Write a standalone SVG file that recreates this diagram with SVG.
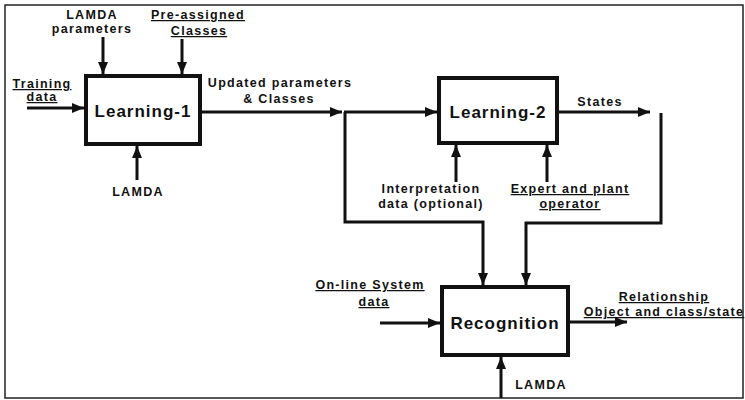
<svg xmlns="http://www.w3.org/2000/svg" width="745" height="400" viewBox="0 0 745 400">
<style>
text{font-family:"Liberation Sans",Arial,sans-serif;font-weight:bold;fill:#111;}
.lbl{font-size:12.5px;letter-spacing:1.3px;text-anchor:middle;}
.u{text-decoration:underline;}
.box{fill:#fff;stroke:#111;stroke-width:4;}
.bt{font-size:17px;letter-spacing:1px;text-anchor:middle;}
.c{fill:none;stroke:#111;stroke-width:3;}
</style>
<defs>
<marker id="ah" viewBox="0 0 12 10" refX="12" refY="5" markerWidth="12" markerHeight="10" orient="auto" markerUnits="userSpaceOnUse">
<path d="M0,0 L12,5 L0,10 Z" fill="#111"/>
</marker>
</defs>
<rect x="5" y="5" width="738" height="393" fill="#fff" stroke="#222" stroke-width="1.5"/>
<g id="connectors">
<path class="c" d="M103,37 V74" marker-end="url(#ah)"/>
<path class="c" d="M182,39 V74" marker-end="url(#ah)"/>
<path class="c" d="M27,108 H84" marker-end="url(#ah)"/>
<path class="c" d="M137,180 V146" marker-end="url(#ah)"/>
<path class="c" d="M202,112 H342" marker-end="url(#ah)"/>
<path class="c" d="M344,112 H437" marker-end="url(#ah)"/>
<path class="c" d="M345,112 V222 H483 V285" marker-end="url(#ah)"/>
<path class="c" d="M559,112 H650" marker-end="url(#ah)"/>
<path class="c" d="M661,113 V223 H526 V285" marker-end="url(#ah)"/>
<path class="c" d="M456,182 V145" marker-end="url(#ah)"/>
<path class="c" d="M547,182 V145" marker-end="url(#ah)"/>
<path class="c" d="M380,323 H440" marker-end="url(#ah)"/>
<path class="c" d="M570,322 H627" marker-end="url(#ah)"/>
<path class="c" d="M501,398 V357" marker-end="url(#ah)"/>
</g>
<g id="learning1">
<rect class="box" x="86" y="76" width="114" height="68"/>
<text class="bt" x="143" y="117">Learning-1</text>
</g>
<g id="learning2">
<rect class="box" x="439" y="78" width="118" height="65"/>
<text class="bt" x="498" y="118">Learning-2</text>
</g>
<g id="recognition">
<rect class="box" x="442" y="287" width="126" height="68"/>
<text class="bt" x="505" y="329">Recognition</text>
</g>
<g id="labels">
<text class="lbl" x="92" y="19">LAMDA</text>
<text class="lbl" x="92" y="33">parameters</text>
<text class="lbl u" x="198" y="19">Pre-assigned</text>
<text class="lbl u" x="199" y="35">Classes</text>
<text class="lbl u" x="42" y="88">Training</text>
<text class="lbl u" x="42" y="101">data</text>
<text class="lbl" x="138" y="196">LAMDA</text>
<text class="lbl" x="280" y="87">Updated parameters</text>
<text class="lbl" x="279" y="103">&amp; Classes</text>
<text class="lbl" x="600" y="106">States</text>
<text class="lbl" x="431" y="193">Interpretation</text>
<text class="lbl" x="431" y="208">data (optional)</text>
<text class="lbl u" x="570" y="193">Expert and plant</text>
<text class="lbl u" x="570" y="208">operator</text>
<text class="lbl u" x="370" y="289">On-line System</text>
<text class="lbl u" x="374" y="306">data</text>
<text class="lbl u" x="664" y="301">Relationship</text>
<text class="lbl u" x="664" y="316">Object and class/state</text>
<text class="lbl" x="541" y="389">LAMDA</text>
</g>
</svg>
